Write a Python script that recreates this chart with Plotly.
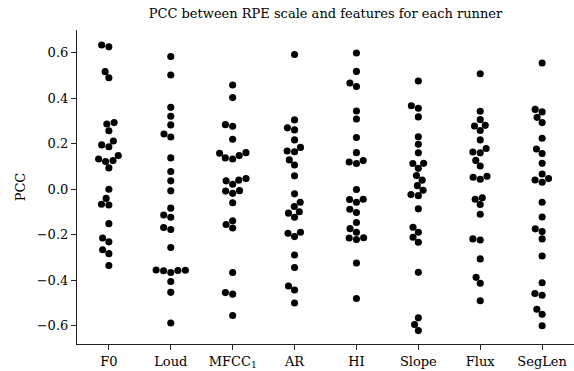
import numpy as np
import plotly.graph_objects as go

categories = ["F0", "Loud", "MFCC<sub>1</sub>", "AR", "HI", "Slope", "Flux", "SegLen"]

f0 = [0.634, 0.626, 0.517, 0.490, 0.287, 0.293, 0.257, 0.195, 0.187, 0.212, 0.148, 0.122, 0.126,
      0.133, 0.094, 0.000, -0.040, -0.066, -0.069, -0.151, -0.214, -0.231, -0.266, -0.283, -0.335]
loud = [0.583, 0.502, 0.360, 0.321, 0.283, 0.243, 0.230, 0.138, 0.078, 0.037, -0.007, -0.083, -0.113,
        -0.123, -0.168, -0.177, -0.256, -0.355, -0.356, -0.357, -0.358, -0.366, -0.405, -0.453, -0.588]
mfcc1 = [0.458, 0.403, 0.284, 0.277, 0.220, 0.158, 0.138, 0.133, 0.148, 0.161, 0.037, 0.022, 0.040,
         0.047, -0.006, -0.018, -0.008, -0.059, -0.138, -0.155, -0.170, -0.366, -0.454, -0.461, -0.555]
ar = [0.592, 0.305, 0.270, 0.261, 0.217, 0.168, 0.165, 0.184, 0.129, 0.107, 0.059, -0.020, -0.057,
      -0.076, -0.099, -0.105, -0.123, -0.193, -0.208, -0.189, -0.289, -0.344, -0.425, -0.443, -0.500]
hi = [0.599, 0.518, 0.467, 0.452, 0.344, 0.309, 0.227, 0.161, 0.120, 0.113, 0.126, -0.001, -0.044,
      -0.057, -0.045, -0.088, -0.102, -0.146, -0.173, -0.189, -0.214, -0.221, -0.213, -0.324, -0.480]
slope = [0.476, 0.367, 0.356, 0.318, 0.231, 0.198, 0.160, 0.113, 0.092, 0.114, 0.060, 0.040, 0.016,
         -0.004, -0.023, -0.028, -0.086, -0.167, -0.189, -0.211, -0.233, -0.365, -0.565, -0.594, -0.621]
flux = [0.508, 0.343, 0.306, 0.278, 0.281, 0.258, 0.217, 0.164, 0.160, 0.179, 0.127, 0.102, 0.053,
        0.044, 0.057, -0.044, -0.037, -0.067, -0.110, -0.218, -0.223, -0.306, -0.387, -0.413, -0.490]
seglen = [0.555, 0.351, 0.340, 0.316, 0.293, 0.224, 0.177, 0.157, 0.114, 0.067, 0.041, 0.031, 0.047,
          -0.057, -0.122, -0.174, -0.186, -0.218, -0.293, -0.411, -0.458, -0.466, -0.527, -0.549, -0.600]

series = [f0, loud, mfcc1, ar, hi, slope, flux, seglen]

ytick_vals = [-0.6, -0.4, -0.2, 0.0, 0.2, 0.4, 0.6]
ytick_text = ["\u22120.6", "\u22120.4", "\u22120.2", "0.0", "0.2", "0.4", "0.6"]

# layout geometry
W, H = 574, 371
ML, MR, MT, MB = 77, 0, 30, 27
XR = [-0.515, 7.515]
YR = [-0.68, 0.70]
px_x = (W - ML - MR) / (XR[1] - XR[0])
px_y = (H - MT - MB) / (YR[1] - YR[0])
DOT = 7.1  # marker diameter in px


def beeswarm(vals):
    """seaborn-like swarm: returns horizontal offsets in data units"""
    y = np.asarray(vals, dtype=float) * px_y
    order = np.argsort(y, kind="stable")
    placed = []
    xs = np.zeros(len(y))
    for idx in order:
        yi = y[idx]
        nb = [(xj, yj) for xj, yj in placed if abs(yi - yj) < DOT]
        cands = [0.0]
        left_first = True
        for xj, yj in nb:
            dx = np.sqrt(max(DOT ** 2 - (yi - yj) ** 2, 0)) * 1.05
            pair = [xj - dx, xj + dx] if left_first else [xj + dx, xj - dx]
            cands.extend(pair)
            left_first = not left_first
        cands = sorted(cands, key=abs)
        chosen = cands[-1]
        for c in cands:
            if all((c - xj) ** 2 + (yi - yj) ** 2 >= DOT ** 2 * 0.999 for xj, yj in nb):
                chosen = c
                break
        placed.append((chosen, yi))
        xs[idx] = chosen
    return xs / px_x


fig = go.Figure()
for i, vals in enumerate(series):
    offs = beeswarm(vals)
    fig.add_trace(go.Scatter(
        x=i + offs, y=vals, mode="markers",
        marker=dict(color="black", size=DOT, line=dict(width=0)),
        showlegend=False, hoverinfo="y"))

FONT = "DejaVu Serif"
FS = 13
fig.update_layout(
    width=W, height=H,
    margin=dict(l=ML, r=MR, t=MT, b=MB),
    paper_bgcolor="white", plot_bgcolor="white",
    font=dict(family=FONT, size=FS, color="black"),
    title=dict(text="PCC between RPE scale and features for each runner",
               x=(ML + (W - ML - MR) / 2) / W, xanchor="center",
               y=1 - 13 / H, yanchor="middle",
               font=dict(family=FONT, size=FS, color="black")),
    xaxis=dict(range=XR, tickvals=list(range(len(categories))), ticktext=categories,
               showline=True, linecolor="#222222", linewidth=1.2, ticks="outside", ticklen=5,
               tickwidth=1.2, tickcolor="#222222", showgrid=False, zeroline=False,
               tickfont=dict(size=FS)),
    yaxis=dict(range=YR, tickvals=ytick_vals, ticktext=ytick_text,
               showline=True, linecolor="#222222", linewidth=1.2, ticks="outside", ticklen=5,
               tickwidth=1.2, tickcolor="#222222", showgrid=False, zeroline=False,
               tickfont=dict(size=FS),
               title=dict(text="PCC", standoff=8, font=dict(size=FS))),
)
fig.write_html("out.html",
               config={"displayModeBar": False},
               post_script="document.body.style.margin='0';document.body.style.padding='0';")
